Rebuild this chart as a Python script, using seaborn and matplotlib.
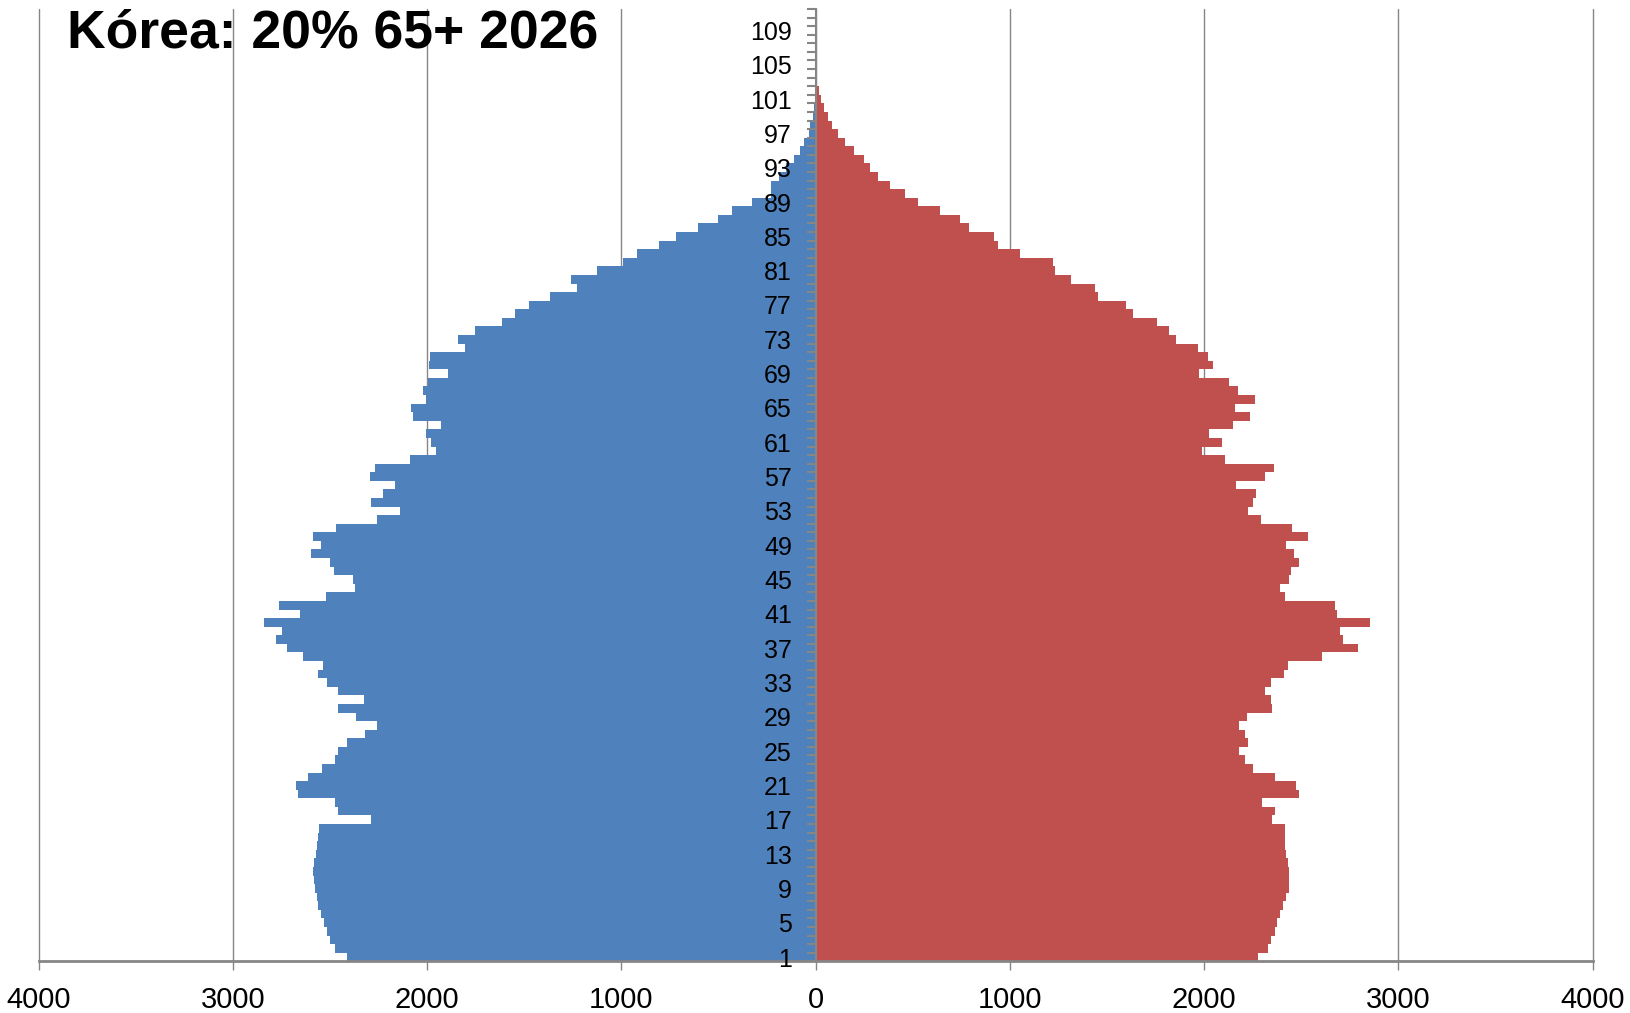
import matplotlib
matplotlib.use("Agg")
import matplotlib.pyplot as plt
import pandas as pd
import seaborn as sns

# Single-year ages shown on the vertical axis
ages = list(range(1, 112))

# Population by age (thousands), men drawn to the left, women to the right
male = [
    2410, 2473, 2498, 2513, 2530, 2545, 2559, 2568, 2578, 2583,
    2589, 2583, 2574, 2568, 2562, 2555, 2288, 2456, 2475, 2663,
    2673, 2612, 2540, 2475, 2456, 2410, 2320, 2259, 2366, 2459,
    2326, 2459, 2517, 2562, 2536, 2637, 2719, 2776, 2749, 2837,
    2656, 2761, 2522, 2372, 2381, 2480, 2498, 2597, 2547, 2585,
    2467, 2259, 2141, 2290, 2229, 2164, 2294, 2269, 2088, 1954,
    1977, 2005, 1926, 2074, 2084, 2005, 2021, 1995, 1892, 1988,
    1983, 1802, 1842, 1751, 1616, 1546, 1476, 1366, 1229, 1258,
    1123, 990, 921, 807, 719, 606, 500, 432, 329, 229,
    229, 188, 150, 110, 79, 58, 36, 26, 15, 9,
    5, 2, 1, 0, 0, 0, 0, 0, 0, 0,
    0,
]
female = [
    2277, 2327, 2347, 2366, 2376, 2389, 2409, 2422, 2436, 2440,
    2436, 2430, 2424, 2418, 2416, 2416, 2349, 2364, 2300, 2490,
    2476, 2364, 2252, 2209, 2182, 2228, 2213, 2180, 2219, 2352,
    2345, 2314, 2347, 2412, 2434, 2606, 2792, 2716, 2701, 2852,
    2687, 2672, 2418, 2391, 2440, 2447, 2490, 2465, 2420, 2534,
    2453, 2292, 2225, 2252, 2267, 2163, 2316, 2362, 2108, 1991,
    2094, 2026, 2151, 2235, 2161, 2261, 2175, 2127, 1976, 2046,
    2022, 1969, 1856, 1820, 1758, 1635, 1597, 1455, 1439, 1314,
    1233, 1223, 1051, 938, 919, 789, 746, 643, 528, 463,
    384, 324, 280, 249, 199, 154, 118, 84, 63, 45,
    27, 17, 9, 3, 0, 0, 0, 0, 0, 0,
    0,
]

x_ticks = [-4000, -3000, -2000, -1000, 0, 1000, 2000, 3000, 4000]
x_tick_labels = [str(abs(v)) for v in x_ticks]
age_labels = list(range(1, 110, 4))
title = "Kórea: 20% 65+ 2026"

BLUE = "#4F81BD"
RED = "#C0504D"
GREY = "#868686"

df = pd.DataFrame({
    "age": ages + ages,
    "pop": [-v for v in male] + female,
    "sex": ["M"] * len(ages) + ["F"] * len(ages),
})

sns.set_style("white")
plt.rcParams["font.family"] = ["Liberation Sans", "DejaVu Sans"]

fig = plt.figure(figsize=(16.30, 10.13), dpi=100)
ax = fig.add_axes([38.5 / 1630, 1 - 961.3 / 1013, 1554 / 1630, 952.3 / 1013])

order = ages[::-1]
sns.barplot(
    data=df, x="pop", y="age", hue="sex", order=order, orient="h",
    palette={"M": BLUE, "F": RED}, width=1.0, dodge=False,
    saturation=1, linewidth=0, legend=False, ax=ax,
)

ax.set_xlim(-4000, 4000)
ax.set_ylim(len(order) - 0.5, -0.5)

# vertical gridlines behind the bars
for v in x_ticks:
    ax.axvline(v, color=GREY, lw=1.0, zorder=0, clip_on=False)

ax.set_axisbelow(False)

# age axis sits at zero, between the two halves
ax.spines["left"].set_position(("data", 0))
ax.spines["left"].set_color(GREY)
ax.spines["left"].set_linewidth(1.5)
ax.spines["left"].set_zorder(5)
ax.spines["top"].set_visible(False)
ax.spines["right"].set_visible(False)
ax.spines["bottom"].set_color(GREY)
ax.spines["bottom"].set_linewidth(2.0)

pos = {a: i for i, a in enumerate(order)}
ax.set_yticks([pos[a] for a in age_labels])
ax.set_yticklabels([str(a) for a in age_labels])
ax.set_yticks([i - 0.5 for i in range(len(order) + 1)], minor=True)
ax.tick_params(axis="y", which="major", left=True, length=0, pad=17,
               labelsize=18, labelcolor="black")
ax.tick_params(axis="y", which="minor", left=True, length=6.2, width=1.5,
               color=GREY, direction="out")

ax.set_xticks(x_ticks)
ax.set_xticklabels(x_tick_labels)
ax.tick_params(axis="x", which="major", bottom=True, length=6.5, width=1.0,
               color=GREY, direction="out", pad=11, labelsize=21,
               labelcolor="black")

ax.set_xlabel("")
ax.set_ylabel("")

fig.text(67 / 1630, 1 - 47 / 1013, title, fontsize=38.5, fontweight="bold",
         family=["Liberation Sans", "DejaVu Sans"],
         ha="left", va="baseline", color="black")

fig.savefig("out.png", dpi=100)
